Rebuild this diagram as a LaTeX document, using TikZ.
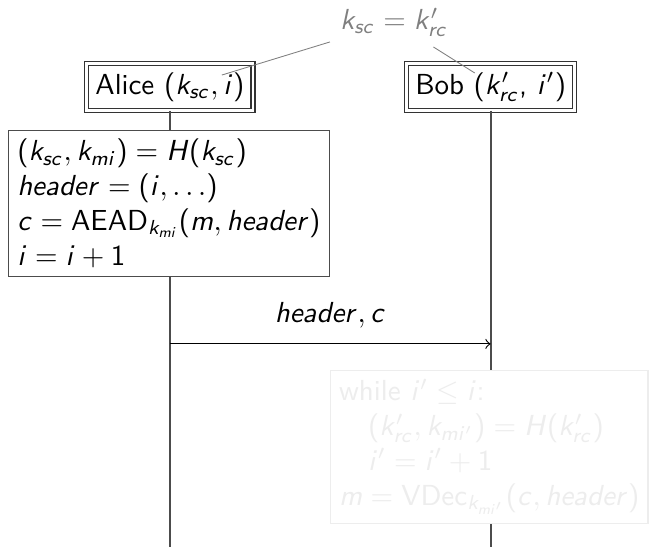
\documentclass[tikz,border=0pt]{standalone}
\renewcommand{\familydefault}{\sfdefault}
% sans serif maths
\DeclareSymbolFont{operators}{OT1}{cmss}{m}{n}
\DeclareSymbolFont{sfletters}{OT1}{cmss}{m}{sl}
\DeclareMathAlphabet{\mathit}{OT1}{cmss}{m}{sl}
\DeclareSymbolFontAlphabet{\mathrm}{operators}
\makeatletter
\@tfor\ch:=abcdefghijklmnopqrstuvwxyzABCDEFGHIJKLMNOPQRSTUVWXYZ\do{%
  \edef\next{\noexpand\DeclareMathSymbol{\ch}{\noexpand\mathalpha}{sfletters}{`\ch}}\next}
\makeatother
\tikzset{
  party/.style={draw=black!80,double,double distance=1pt,inner sep=3pt},
  lifeline/.style={draw=black!70,line width=0.6pt},
  stepbox/.style={draw=black!70,fill=white,align=left,anchor=north west,inner sep=3pt},
  faded/.style={draw=black!7,fill=white,text=black!7,align=left,anchor=north west,inner sep=3pt},
}
\begin{document}
\begin{tikzpicture}[x=1cm,y=1cm]
\useasboundingbox (0,0) rectangle (7.87,6.63);

\node[text=black!50] (keys) at (4.78,6.36) {$k_{sc} = k'_{rc}$};
\node[party] (alice) at (2.06,5.575) {Alice ($k_{sc}, i$)};
\node[party] (bob) at (5.95,5.575) {Bob ($k'_{rc}$, $i'$)};

\coordinate (aend) at (2.06,0);
\coordinate (bend) at (5.95,0);
\draw[lifeline] (alice) -- (aend);
\draw[lifeline] (bob) -- (bend);

\coordinate (ai) at (2.69,5.72);
\coordinate (bk) at (5.757,5.745);
\draw[black!50,line width=0.3pt] (keys) -- (ai);
\draw[black!50,line width=0.3pt] (keys) -- (bk);

\node[stepbox] (send) at (0.097,5.054) {$(k_{sc}, k_{mi}) = H(k_{sc})$\\
$\mathit{header} = (i, \ldots)$\\
$c = \mathrm{AEAD}_{k_{mi}}(m, \mathit{header})$\\
$i = i + 1$};

\coordinate (afrom) at (2.06,2.46);
\coordinate (bto) at (5.95,2.46);
\draw[->] (afrom) -- node[above=2pt] {$\mathit{header}, c$} (bto);

\node[faded] (recv) at (4.0,2.145) {while $i' \le i$:\\
\quad $(k'_{rc}, k_{mi'}) = H(k'_{rc})$\\
\quad $i' = i' + 1$\\
$m = \mathrm{VDec}_{k_{mi'}}(c, \mathit{header})$};
\end{tikzpicture}
\end{document}
